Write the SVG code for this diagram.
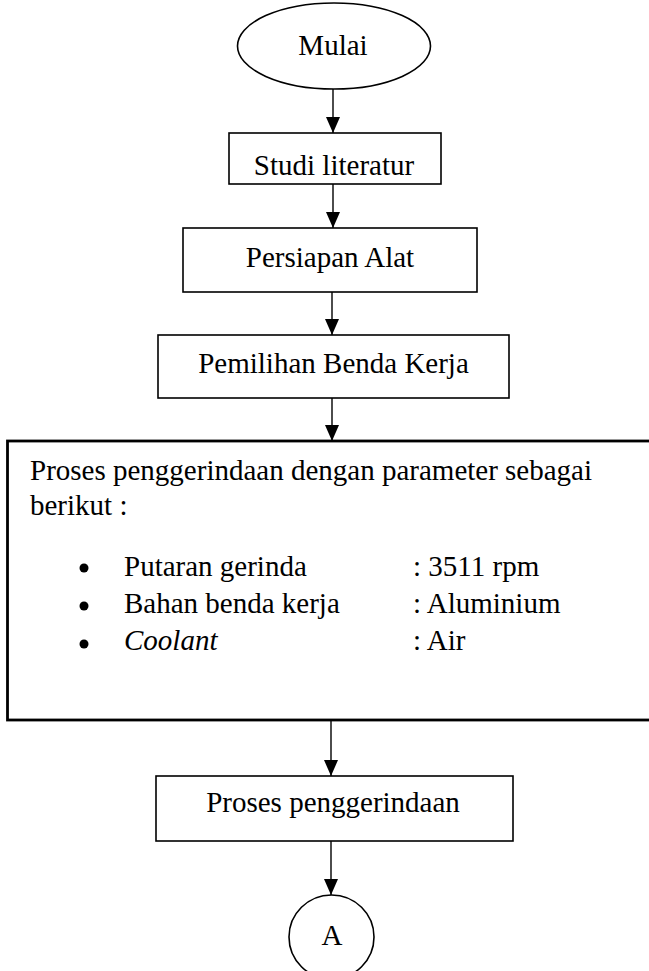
<svg xmlns="http://www.w3.org/2000/svg" width="649" height="971" viewBox="0 0 649 971">
<style>
.shape{fill:#fff;stroke:#000;stroke-width:1.6}
.big{fill:#fff;stroke:#000;stroke-width:2.8}
.t{font-family:"Liberation Serif","Times New Roman",serif;font-size:29px;fill:#000}
.c{text-anchor:middle}
.conn{stroke:#000;stroke-width:1.4;fill:none}
</style>
<defs>
<marker id="ah" viewBox="0 0 16 14" refX="16" refY="7" markerWidth="16" markerHeight="14" markerUnits="userSpaceOnUse" orient="auto">
<path d="M0,0 L16,7 L0,14 z" fill="#000"/>
</marker>
</defs>
<rect width="649" height="971" fill="#fff"/>
<g id="connectors">
<line class="conn" x1="333" y1="89" x2="333" y2="133" marker-end="url(#ah)"/>
<line class="conn" x1="333" y1="184" x2="333" y2="228" marker-end="url(#ah)"/>
<line class="conn" x1="332" y1="292" x2="332" y2="335" marker-end="url(#ah)"/>
<line class="conn" x1="332" y1="398" x2="332" y2="441" marker-end="url(#ah)"/>
<line class="conn" x1="331" y1="720" x2="331" y2="776" marker-end="url(#ah)"/>
<line class="conn" x1="331" y1="841" x2="331" y2="895" marker-end="url(#ah)"/>
</g>
<g id="mulai">
<ellipse class="shape" cx="334" cy="46" rx="96.5" ry="43"/>
<text class="t c" x="333" y="55">Mulai</text>
</g>
<g id="studi">
<rect class="shape" x="229" y="133" width="212" height="51"/>
<text class="t c" x="334" y="175">Studi literatur</text>
</g>
<g id="persiapan">
<rect class="shape" x="183" y="228" width="294" height="64"/>
<text class="t c" x="330" y="267">Persiapan Alat</text>
</g>
<g id="pemilihan">
<rect class="shape" x="158" y="335" width="351" height="63"/>
<text class="t c" x="333.5" y="373">Pemilihan Benda Kerja</text>
</g>
<g id="proses-parameter">
<rect class="big" x="7.5" y="441" width="660" height="279"/>
<text class="t" x="30" y="480">Proses penggerindaan dengan parameter sebagai</text>
<text class="t" x="30" y="515">berikut :</text>
<circle cx="84" cy="568" r="4.5" fill="#000"/>
<circle cx="84" cy="606" r="4.5" fill="#000"/>
<circle cx="84" cy="644" r="4.5" fill="#000"/>
<text class="t" x="124" y="576">Putaran gerinda</text>
<text class="t" x="124" y="613">Bahan benda kerja</text>
<text class="t" x="124" y="650" font-style="italic">Coolant</text>
<text class="t" x="413" y="576">: 3511 rpm</text>
<text class="t" x="413" y="613">: Aluminium</text>
<text class="t" x="413" y="650">: Air</text>
</g>
<g id="proses">
<rect class="shape" x="156" y="776" width="357" height="65"/>
<text class="t c" x="333" y="812">Proses penggerindaan</text>
</g>
<g id="A">
<ellipse class="shape" cx="331.5" cy="937" rx="42.5" ry="42"/>
<text class="t c" x="332" y="945">A</text>
</g>
</svg>
